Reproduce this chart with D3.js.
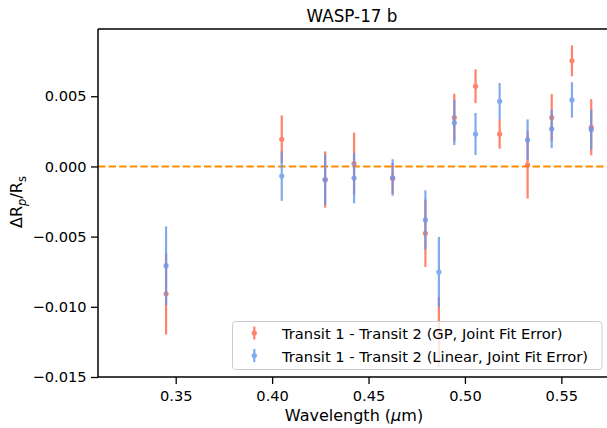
<!DOCTYPE html>
<html><head><meta charset="utf-8">
<script src="https://cdn.jsdelivr.net/npm/d3@7"></script>
<style>
body{margin:0;background:#fff;}
svg text{font-family:"DejaVu Sans",sans-serif;}
</style></head>
<body><svg id="c" width="607" height="428"></svg>
<script>
const wavelengths = [0.345,0.405,0.4275,0.4425,0.4625,0.4795,0.4865,0.4945,0.5055,0.518,0.5325,0.545,0.5555,0.5655];
const gpValues    = [-0.00907,0.00193,-0.00093,0.00021,-0.00086,-0.00476,-0.0118,0.00348,0.00571,0.00231,0.00012,0.00348,0.00752,0.00279];
const gpErrors    = [0.0029,0.0017,0.0020,0.0022,0.0011,0.0024,0.0025,0.0017,0.0012,0.00105,0.0024,0.00167,0.0011,0.0020];
const linValues   = [-0.00707,-0.00069,-0.00095,-0.00083,-0.00079,-0.0038,-0.00752,0.00312,0.00231,0.00464,0.0019,0.00267,0.00474,0.00262];
const linErrors   = [0.0028,0.00176,0.0018,0.0018,0.0013,0.0021,0.0025,0.0016,0.0015,0.0013,0.00145,0.00137,0.00126,0.00143];
const xTicks = [0.35,0.40,0.45,0.50,0.55];
const yTicks = [-0.015,-0.010,-0.005,0.000,0.005];
const seriesNames = ["Transit 1 - Transit 2 (GP, Joint Fit Error)","Transit 1 - Transit 2 (Linear, Joint Fit Error)"];
const seriesColors = ["#ff6347","#6495ed"];

const svg = d3.select("#c");
const L=98, R=608, T=29, B=377;
const x = d3.scaleLinear().domain([0.3097,0.5742]).range([L,R]);
const y = d3.scaleLinear().domain([-0.015,0.00979]).range([B,T]);

// zero line
svg.append("line").attr("x1",L).attr("x2",R).attr("y1",y(0)).attr("y2",y(0))
  .attr("stroke","#ff8c00").attr("stroke-width",2).attr("stroke-dasharray","7.4,3.2");

const series = [
  {vals:gpValues, errs:gpErrors, color:seriesColors[0]},
  {vals:linValues, errs:linErrors, color:seriesColors[1]}
];
series.forEach(s=>{
  const g = svg.append("g").attr("opacity",0.8);
  wavelengths.forEach((w,i)=>{
    g.append("line").attr("x1",x(w)).attr("x2",x(w))
      .attr("y1",y(s.vals[i]-s.errs[i])).attr("y2",y(s.vals[i]+s.errs[i]))
      .attr("stroke",s.color).attr("stroke-width",2.2);
    g.append("circle").attr("cx",x(w)).attr("cy",y(s.vals[i])).attr("r",2.6).attr("fill",s.color);
  });
});

// axes
const xa = svg.append("g").attr("transform",`translate(0,${B})`)
  .call(d3.axisBottom(x).tickValues(xTicks).tickFormat(d3.format(".2f")).tickSize(7).tickPadding(7));
const ya = svg.append("g").attr("transform",`translate(${L},0)`)
  .call(d3.axisLeft(y).tickValues(yTicks).tickFormat(d=>d3.format(".3f")(d).replace("-","\u2212")).tickSize(7).tickPadding(4.5));
[xa,ya].forEach(a=>{
  a.select(".domain").remove();
  a.selectAll("line").attr("stroke","#000").attr("stroke-width",1.3);
  a.selectAll("text").attr("font-size",14.6).attr("fill","#000").attr("font-family","DejaVu Sans");
});
// spines
svg.append("line").attr("x1",L).attr("x2",L).attr("y1",T).attr("y2",B).attr("stroke","#000").attr("stroke-width",1.5);
svg.append("line").attr("x1",L).attr("x2",R).attr("y1",B).attr("y2",B).attr("stroke","#000").attr("stroke-width",1.5);
svg.append("line").attr("x1",L).attr("x2",R).attr("y1",T).attr("y2",T).attr("stroke","#000").attr("stroke-width",1.5);

// title
svg.append("text").attr("x",352).attr("y",22).attr("text-anchor","middle").attr("font-size",16.8).text("WASP-17 b");

// x label
const xl = svg.append("text").attr("x",354).attr("y",420.5).attr("text-anchor","middle").attr("font-size",16);
xl.append("tspan").text("Wavelength (");
xl.append("tspan").attr("font-style","italic").text("\u03bc");
xl.append("tspan").text("m)");

// y label
const yl = svg.append("text").attr("transform","translate(22,202) rotate(-90)").attr("text-anchor","middle").attr("font-size",16);
yl.append("tspan").text("\u0394R");
yl.append("tspan").attr("font-size",11.5).attr("font-style","italic").attr("dy",3.5).text("p");
yl.append("tspan").attr("dy",-3.5).text("/R");
yl.append("tspan").attr("font-size",11.5).attr("dy",3.5).text("s");

// legend
const lg = svg.append("g");
lg.append("rect").attr("x",232.5).attr("y",321.5).attr("width",369.5).attr("height",48).attr("rx",3)
  .attr("fill","#fff").attr("fill-opacity",0.8).attr("stroke","#ccc").attr("stroke-width",1);
seriesNames.forEach((n,i)=>{
  const cy = 333 + i*22.5;
  const g = lg.append("g").attr("opacity",0.8);
  g.append("line").attr("x1",254.3).attr("x2",254.3).attr("y1",cy-6.5).attr("y2",cy+6.5).attr("stroke",seriesColors[i]).attr("stroke-width",2.2);
  g.append("circle").attr("cx",254.3).attr("cy",cy).attr("r",2.6).attr("fill",seriesColors[i]);
  lg.append("text").attr("x",282).attr("y",cy+6).attr("font-size",14.7).attr("fill","#000").text(n);
});
</script></body></html>
